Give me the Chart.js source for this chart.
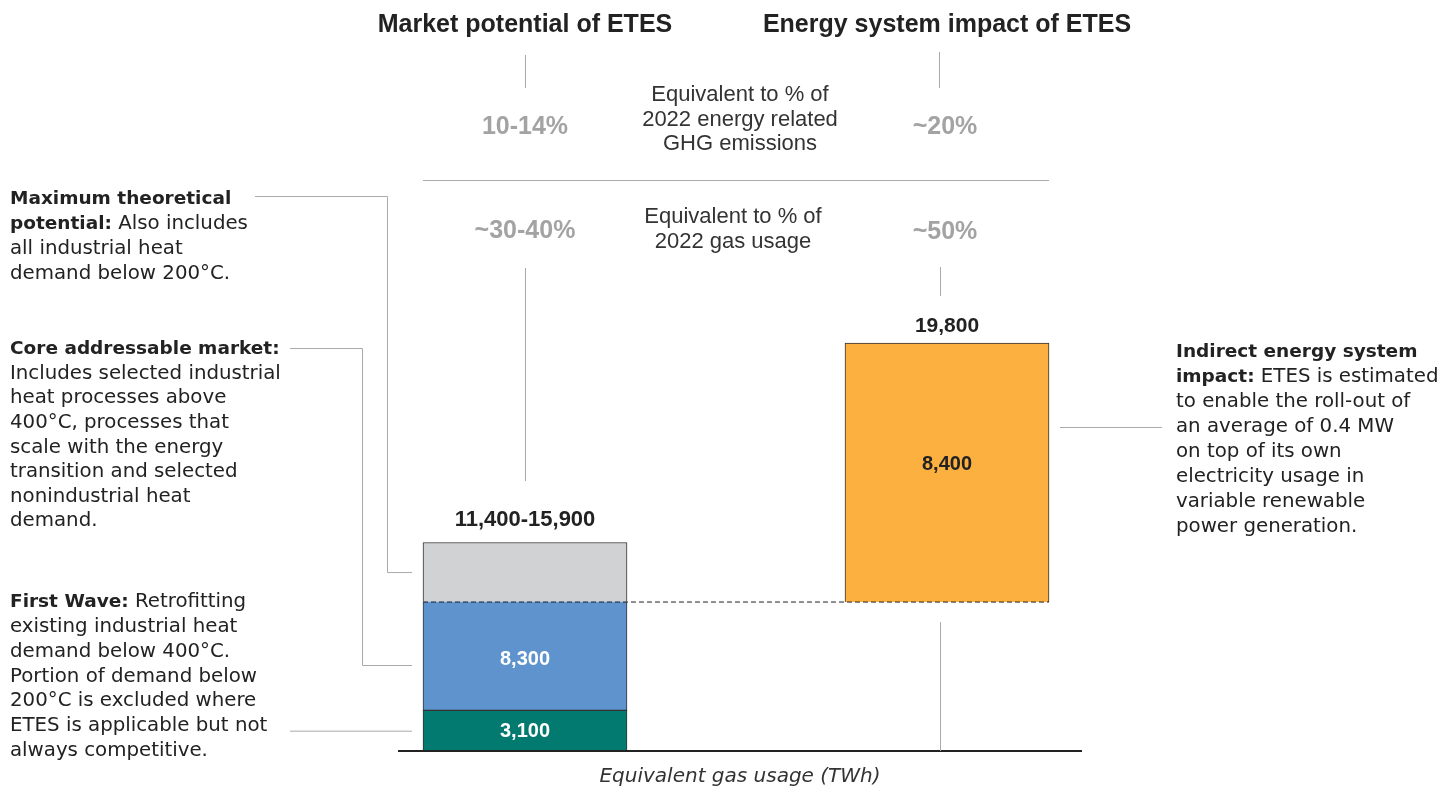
<!DOCTYPE html>
<html>
<head>
<meta charset="utf-8">
<script src="https://cdn.jsdelivr.net/npm/chart.js@4"></script>
<style>
  html, body { margin: 0; padding: 0; background: #fff; }
  #chart { display: block; }
</style>
</head>
<body>
<canvas id="chart" width="1447" height="791"></canvas>
<script>
// 数据
const categories = ['Market potential of ETES', 'Energy system impact of ETES'];
const firstWave = [3100, null];
const coreMarket = [8300, null];
const maxTheoretical = [4500, null];          // 11,400 -> 15,900
const indirectImpact = [null, [11400, 19800]]; // 浮动柱
const barLabels = ['11,400-15,900', '19,800'];
const segmentLabels = { firstWave: '3,100', coreMarket: '8,300', indirect: '8,400' };
const ghgShare = ['10-14%', '~20%'];
const gasShare = ['~30-40%', '~50%'];

// 左侧说明文字 [粗体, 常规]
const noteMax = [['Maximum theoretical', ''], ['potential:', ' Also includes'], ['', 'all industrial heat'], ['', 'demand below 200°C.']];
const noteCore = [['Core addressable market:', ''], ['', 'Includes selected industrial'], ['', 'heat processes above'],
  ['', '400°C, processes that'], ['', 'scale with the energy'], ['', 'transition and selected'],
  ['', 'nonindustrial heat'], ['', 'demand.']];
const noteFirst = [['First Wave:', ' Retrofitting'], ['', 'existing industrial heat'], ['', 'demand below 400°C.'],
  ['', 'Portion of demand below'], ['', '200°C is excluded where'], ['', 'ETES is applicable but not'], ['', 'always competitive.']];
const noteIndirect = [['Indirect energy system', ''], ['impact:', ' ETES is estimated'], ['', 'to enable the roll-out of'],
  ['', 'an average of 0.4 MW'], ['', 'on top of its own'], ['', 'electricity usage in'], ['', 'variable renewable'], ['', 'power generation.']];

const BODY = '"DejaVu Sans", sans-serif';
const HEAD = '"Liberation Sans", Arial, sans-serif';
const LINE = '#aaaaaa';

function richLines(ctx, lines, x, y, lh) {
    ctx.textAlign = 'left';
    ctx.textBaseline = 'middle';
    ctx.fillStyle = '#222';
    lines.forEach((l, i) => {
        let cx = x;
        if (l[0]) {
            ctx.font = 'bold 18.5px ' + BODY;
            ctx.fillText(l[0], cx, y + i * lh);
            cx += ctx.measureText(l[0]).width;
        }
        if (l[1]) {
            ctx.font = '19.8px ' + BODY;
            ctx.fillText(l[1], cx, y + i * lh);
        }
    });
}

function line(ctx, pts, color, width, dash) {
    ctx.save();
    ctx.strokeStyle = color;
    ctx.lineWidth = width || 1;
    ctx.setLineDash(dash || []);
    ctx.beginPath();
    pts.forEach((p, i) => i ? ctx.lineTo(p[0], p[1]) : ctx.moveTo(p[0], p[1]));
    ctx.stroke();
    ctx.restore();
}

function text(ctx, str, x, y, font, color, align) {
    ctx.font = font;
    ctx.fillStyle = color;
    ctx.textAlign = align || 'center';
    ctx.textBaseline = 'middle';
    ctx.fillText(str, x, y);
}

const annotations = {
    id: 'annotations',
    afterDatasetsDraw(chart) {
        const ctx = chart.ctx;
        const y = chart.scales.y, y2 = chart.scales.y2, x = chart.scales.x;
        const left = chart.getDatasetMeta(0).data[0];
        const right = chart.getDatasetMeta(3).data[1];
        const lx = x.getPixelForValue(0), rx = x.getPixelForValue(1);
        const lL = left.x - left.width / 2;
        const rR = right.x + right.width / 2;
        const base = y.getPixelForValue(0);
        const split = y.getPixelForValue(11400);

        // 坐标轴
        line(ctx, [[398, base], [1082, base]], '#222', 2);
        // 虚线
        line(ctx, [[lL, split + 0.5], [rR, split + 0.5]], '#222', 1, [5, 3]);

        // 柱上数值
        text(ctx, barLabels[0], lx, y.getPixelForValue(15900) - 23, 'bold 22px ' + HEAD, '#222');
        text(ctx, barLabels[1], rx, y2.getPixelForValue(19800) - 17, 'bold 21px ' + HEAD, '#222');
        text(ctx, segmentLabels.firstWave, lx, y.getPixelForValue(1500), 'bold 20px ' + HEAD, '#fff');
        text(ctx, segmentLabels.coreMarket, lx, y.getPixelForValue(7000), 'bold 20px ' + HEAD, '#fff');
        text(ctx, segmentLabels.indirect, rx, y2.getPixelForValue(15850), 'bold 20px ' + HEAD, '#222');

        // 顶部标题和百分比
        text(ctx, categories[0], lx, 25, 'bold 25px ' + HEAD, '#222');
        text(ctx, categories[1], rx, 25, 'bold 25px ' + HEAD, '#222');
        line(ctx, [[lx + 0.5, 55], [lx + 0.5, 88]], LINE);
        line(ctx, [[rx - 7.5, 52], [rx - 7.5, 88]], LINE);
        text(ctx, ghgShare[0], lx, 127, 'bold 25px ' + HEAD, '#a3a3a3');
        text(ctx, ghgShare[1], rx - 2, 127, 'bold 25px ' + HEAD, '#a3a3a3');
        ['Equivalent to % of', '2022 energy related', 'GHG emissions'].forEach((s, i) =>
            text(ctx, s, 740, 95 + i * 24.5, '22px ' + HEAD, '#333'));
        line(ctx, [[lL, 180.5], [rR, 180.5]], LINE);
        text(ctx, gasShare[0], lx, 231, 'bold 25px ' + HEAD, '#a3a3a3');
        text(ctx, gasShare[1], rx - 2, 232, 'bold 25px ' + HEAD, '#a3a3a3');
        ['Equivalent to % of', '2022 gas usage'].forEach((s, i) =>
            text(ctx, s, 733, 217 + i * 25, '22px ' + HEAD, '#333'));
        line(ctx, [[lx + 0.5, 268], [lx + 0.5, 481]], LINE);
        line(ctx, [[rx - 6.5, 267], [rx - 6.5, 296]], LINE);
        line(ctx, [[rx - 6.5, 622], [rx - 6.5, base]], LINE);

        // 说明连接线
        const gap = lL - 11;
        const greyMid = y.getPixelForValue(13650) + 0.5;
        const tealMid = y.getPixelForValue(1550) + 0.5;
        line(ctx, [[255, 196.5], [387.5, 196.5], [387.5, greyMid], [gap, greyMid]], LINE);
        line(ctx, [[290, 348.5], [362.5, 348.5], [362.5, 665.5], [gap, 665.5]], LINE);
        line(ctx, [[290, tealMid], [gap, tealMid]], LINE);
        line(ctx, [[rR + 11, 427.5], [1162, 427.5]], LINE);

        // 说明文字
        richLines(ctx, noteMax, 10, 199, 24.8);
        richLines(ctx, noteCore, 10, 349, 24.6);
        richLines(ctx, noteFirst, 10, 602, 24.8);
        richLines(ctx, noteIndirect, 1176, 352, 25);

        // 横轴标题
        text(ctx, 'Equivalent gas usage (TWh)', 740, 777, 'italic 20px ' + BODY, '#333');
    }
};

const border = '#333';
new Chart(document.getElementById('chart'), {
    type: 'bar',
    data: {
        labels: categories,
        datasets: [
            { label: 'First Wave', data: firstWave, backgroundColor: '#037a6f', borderColor: border, borderWidth: 1 },
            { label: 'Core addressable market', data: coreMarket, backgroundColor: '#5f93cd', borderColor: border,
              borderWidth: { top: 0, left: 1, right: 1, bottom: 1 }, borderSkipped: false },
            { label: 'Maximum theoretical potential', data: maxTheoretical, backgroundColor: '#d1d2d4', borderColor: border, borderWidth: 1 },
            { label: 'Indirect energy system impact', data: indirectImpact, yAxisID: 'y2', backgroundColor: '#fbb040', borderColor: border, borderWidth: 1 }
        ]
    },
    options: {
        responsive: false,
        animation: false,
        events: [],
        layout: { padding: { left: 314, right: 289, top: 300, bottom: 40 } },
        datasets: { bar: { barThickness: 204 } },
        plugins: { legend: { display: false }, tooltip: { enabled: false } },
        scales: {
            x: { stacked: true, display: false },
            y: { stacked: true, display: false, min: 0, max: 34400 },
            // 右侧柱子单独的比例（原图未按比例绘制）
            y2: { stacked: false, display: false, min: 6568, max: 21195 }
        }
    },
    plugins: [annotations]
});
</script>
</body>
</html>
